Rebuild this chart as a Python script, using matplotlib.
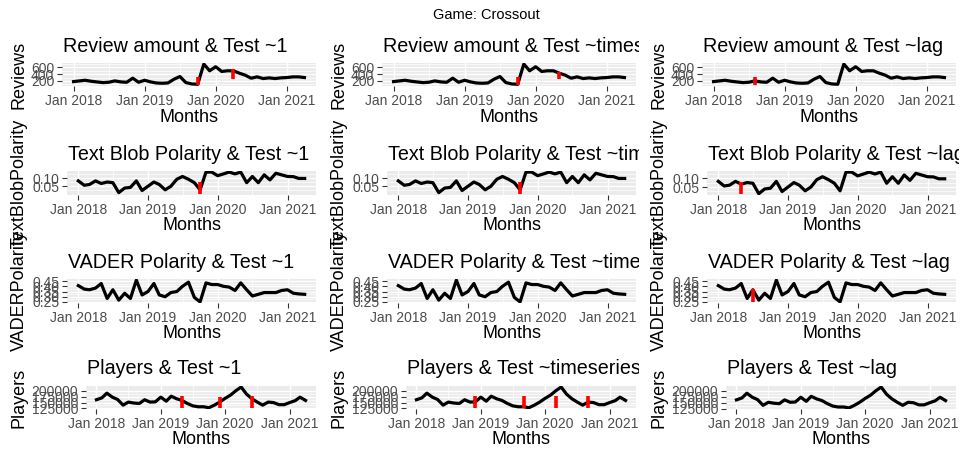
import numpy as np
import pandas as pd
import matplotlib
matplotlib.use('Agg')
import matplotlib.pyplot as plt
import matplotlib.dates as mdates
from matplotlib.transforms import Bbox, TransformedBbox

plt.rcParams['font.family'] = ['Liberation Sans', 'DejaVu Sans']

# monthly data, Jan 2018 - Apr 2021
months = pd.date_range('2018-01-01', periods=40, freq='MS')

reviews = [180, 200, 220, 190, 170, 150, 160, 200, 170, 160,
           280, 160, 220, 170, 140, 130, 140, 250, 330, 150,
           110, 100, 700, 500, 620, 480, 500, 500, 430, 370,
           280, 320, 270, 290, 270, 290, 300, 320, 320, 300]

textblob = [0.083, 0.056, 0.061, 0.083, 0.067, 0.076, 0.072, 0.011, 0.039, 0.043,
            0.083, 0.024, 0.050, 0.076, 0.061, 0.028, 0.050, 0.093, 0.110, 0.093,
            0.072, 0.028, 0.137, 0.137, 0.115, 0.126, 0.137, 0.126, 0.137, 0.072,
            0.110, 0.072, 0.120, 0.089, 0.130, 0.120, 0.110, 0.109, 0.098, 0.098]

vader = [0.407, 0.373, 0.367, 0.383, 0.427, 0.283, 0.367, 0.267, 0.333, 0.283,
         0.460, 0.317, 0.350, 0.427, 0.317, 0.300, 0.340, 0.350, 0.400, 0.440,
         0.293, 0.250, 0.433, 0.417, 0.417, 0.400, 0.393, 0.360, 0.433, 0.367,
         0.307, 0.323, 0.340, 0.340, 0.340, 0.360, 0.367, 0.333, 0.327, 0.323]

players = [162000, 170000, 190000, 173000, 163000, 139000, 152000, 148000, 146000, 162000,
           152000, 153000, 173000, 156000, 177000, 166000, 159000, 146000, 136000, 132000,
           132000, 128000, 139000, 152000, 168000, 182000, 200000, 216000, 186000, 166000,
           152000, 139000, 152000, 150000, 141000, 141000, 150000, 158000, 173000, 159000]

series = [reviews, textblob, vader, players]
row_titles = ['Review amount', 'Text Blob Polarity', 'VADER Polarity', 'Players']
row_ylabels = ['Reviews', 'TextBlobPolarity', 'VADERPolarity', 'Players']
tests = ['1', 'timeseries', 'lag']

y_major = [[200, 400, 600], [0.05, 0.10], [0.25, 0.30, 0.35, 0.40, 0.45],
           [125000, 150000, 175000, 200000]]
y_ticklabels = [['200', '400', '600'], ['0.05', '0.10'],
                ['0.25', '0.30', '0.35', '0.40', '0.45'],
                ['125000', '150000', '175000', '200000']]
y_minor = [[100, 300, 500, 700], [0.025, 0.075, 0.125],
           [0.275, 0.325, 0.375, 0.425], [137500, 162500, 187500]]

# red break markers: (row, col) -> dates, low, high
breaks = {
    (0, 0): (['2019-10-01', '2020-04-01'], [80, 250], [330, 550]),
    (0, 1): (['2019-10-01', '2020-05-01'], [80, 250], [330, 450]),
    (0, 2): (['2018-08-01'], [80], [330]),
    (1, 0): (['2019-10-01'], [0.003], [0.077]),
    (1, 1): (['2019-10-01'], [0.003], [0.077]),
    (1, 2): (['2018-05-01'], [0.01], [0.077]),
    (2, 2): (['2018-07-01'], [0.25], [0.373]),
    (3, 0): (['2019-05-01', '2019-12-01', '2020-06-01'],
             [127000, 127000, 127000], [177000, 175000, 177000]),
    (3, 1): (['2018-12-01', '2019-09-01', '2020-03-01', '2020-09-01'],
             [127000, 127000, 127000, 127000], [177000, 177000, 177000, 177000]),
}

W, H = 971, 453
fig = plt.figure(figsize=(W / 100, H / 100), dpi=100)

col_off = [0, 320, 640]
panel_left = [62, 67, 67, 86]
panel_right = 316
panel_top = [63, 171, 279, 386]
panel_bot = [86, 195, 303, 409]


def fx(px):
    return px / W


def fy(px):
    return 1 - px / H


fig.text(fx(486), fy(15), 'Game: Crossout', ha='center', va='center', fontsize=10.5)

for r in range(4):
    vals = series[r]
    for c in range(3):
        x0 = panel_left[r] + col_off[c]
        x1 = panel_right + col_off[c]
        ax = fig.add_axes([fx(x0), fy(panel_bot[r]), (x1 - x0) / W,
                           (panel_bot[r] - panel_top[r]) / H])
        ax.set_facecolor('#EBEBEB')
        for s in ax.spines.values():
            s.set_visible(False)
        ax.set_axisbelow(True)

        ax.plot(months, vals, color='black', lw=2.3, solid_joinstyle='round', zorder=3)

        lo, hi = min(vals), max(vals)
        if (r, c) in breaks:
            d, blo, bhi = breaks[(r, c)]
            ax.vlines(pd.to_datetime(d), blo, bhi, color='red', lw=2.6, zorder=4)
            lo, hi = min(lo, min(blo)), max(hi, max(bhi))
        pad = 0.05 * (hi - lo)
        ax.set_ylim(lo - pad, hi + pad)

        span = months[-1] - months[0]
        ax.set_xlim(months[0] - span * 0.05, months[-1] + span * 0.05)

        ax.xaxis.set_major_locator(mdates.YearLocator())
        ax.xaxis.set_minor_locator(mdates.MonthLocator(bymonth=7))
        ax.xaxis.set_major_formatter(mdates.DateFormatter('%b %Y'))
        ax.set_yticks(y_major[r])
        ax.set_yticklabels(y_ticklabels[r])
        ax.set_yticks(y_minor[r], minor=True)

        ax.grid(which='major', color='white', lw=1.0)
        ax.grid(which='minor', color='white', lw=0.5)
        ax.tick_params(which='major', length=3.5, width=0.8, color='#333333',
                       labelcolor='#4D4D4D', labelsize=10, pad=2)
        ax.tick_params(which='minor', length=0)

        # each sub-plot clips its title at its own right edge
        cell = TransformedBbox(Bbox.from_extents(fx(320 * c), 0, fx(320 * c + 319), 1),
                               fig.transFigure)
        t = fig.text(fx(x0 + 1), fy(panel_top[r] - 17),
                     row_titles[r] + ' & Test ~' + tests[c],
                     ha='left', va='center', fontsize=14.2)
        t.set_clip_box(cell)
        t.set_clip_on(True)

        fig.text(fx((x0 + x1) / 2), fy(panel_bot[r] + 31), 'Months',
                 ha='center', va='center', fontsize=13)
        fig.text(fx(19 + col_off[c]), fy((panel_top[r] + panel_bot[r]) / 2),
                 row_ylabels[r], rotation=90, ha='center', va='center', fontsize=13)

fig.savefig('out.png', dpi=100)
